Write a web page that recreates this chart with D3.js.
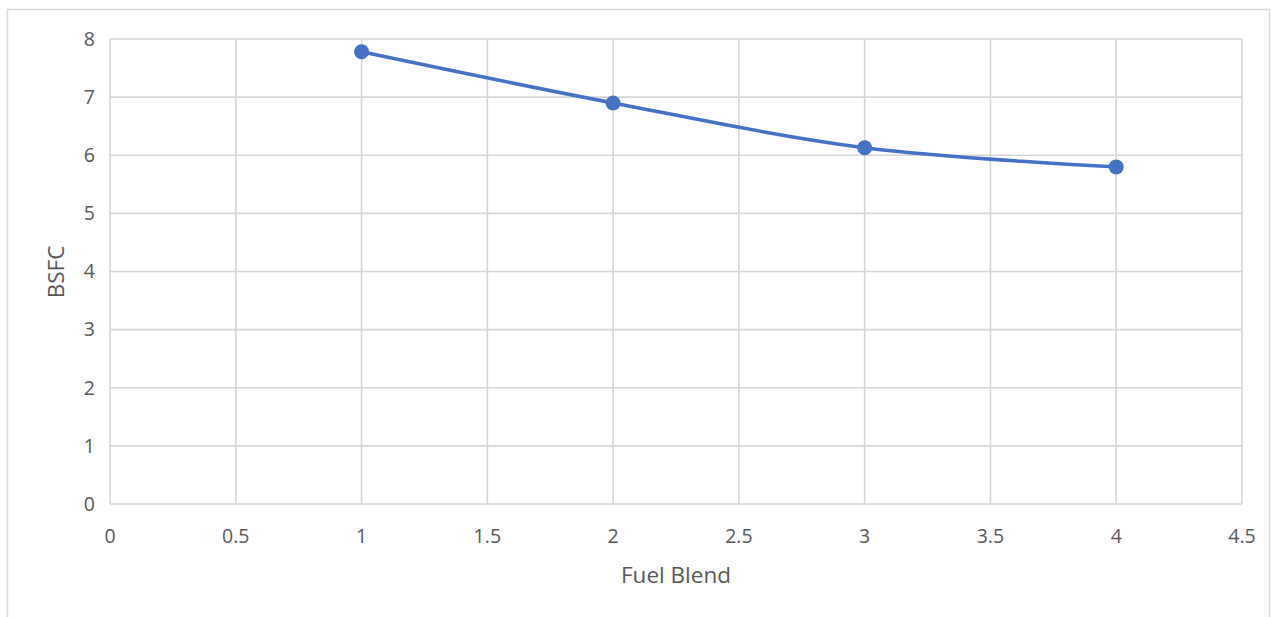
<!DOCTYPE html>
<html>
<head>
  <meta charset="UTF-8">
  <style>
    body { margin: 0; background: #fff; }
    svg { display: block; }
    text { font-family: "Open Sans", sans-serif; fill: #595959; }
  </style>
</head>
<body>
<svg></svg>
<script src="https://d3js.org/d3.v7.min.js"></script>
<script>

let width = 1271, height = 617;

// data
let fuelBlend = [1, 2, 3, 4];
let bsfc = [7.78, 6.9, 6.13, 5.8];
let xTicks = [0, 0.5, 1, 1.5, 2, 2.5, 3, 3.5, 4, 4.5];
let yTicks = [0, 1, 2, 3, 4, 5, 6, 7, 8];

let margin = {left: 110, top: 39, right: 1242, bottom: 504};

let svg = d3.select("svg")
    .attr("width", width)
    .attr("height", height);

// outer chart frame (bottom cut off in the reference)
svg.append("rect")
    .attr("x", 7.5).attr("y", 9.5)
    .attr("width", 1262).attr("height", 700)
    .attr("fill", "none")
    .attr("stroke", "#d9d9d9")
    .attr("stroke-width", 1.5);

let x = d3.scaleLinear().domain([0, 4.5]).range([margin.left, margin.right]);
let y = d3.scaleLinear().domain([0, 8]).range([margin.bottom, margin.top]);

// gridlines
svg.append("g")
    .selectAll("line.h")
    .data(yTicks)
    .enter()
    .append("line")
    .attr("x1", margin.left).attr("x2", margin.right)
    .attr("y1", d => y(d)).attr("y2", d => y(d))
    .attr("stroke", "#d6d6d6")
    .attr("stroke-width", 1.6);

svg.append("g")
    .selectAll("line.v")
    .data(xTicks)
    .enter()
    .append("line")
    .attr("x1", d => x(d)).attr("x2", d => x(d))
    .attr("y1", margin.top).attr("y2", margin.bottom)
    .attr("stroke", "#d6d6d6")
    .attr("stroke-width", 1.6);

// tick labels
svg.append("g")
    .selectAll("text")
    .data(yTicks)
    .enter()
    .append("text")
    .attr("x", 95)
    .attr("y", d => y(d))
    .attr("dy", "0.35em")
    .attr("text-anchor", "end")
    .style("font-size", "19.5px")
    .text(d => d);

svg.append("g")
    .selectAll("text")
    .data(xTicks)
    .enter()
    .append("text")
    .attr("x", d => x(d))
    .attr("y", 543)
    .attr("text-anchor", "middle")
    .style("font-size", "19.5px")
    .text(d => d);

// axis titles
svg.append("text")
    .attr("x", 676)
    .attr("y", 583)
    .attr("text-anchor", "middle")
    .style("font-size", "22.5px")
    .text("Fuel Blend");

svg.append("text")
    .attr("transform", "translate(64,272) rotate(-90)")
    .attr("text-anchor", "middle")
    .style("font-size", "22.5px")
    .text("BSFC");

// series
let pts = fuelBlend.map((f, i) => [f, bsfc[i]]);

let line = d3.line()
    .x(d => x(d[0]))
    .y(d => y(d[1]))
    .curve(d3.curveCatmullRom.alpha(0));

svg.append("path")
    .datum(pts)
    .attr("d", line)
    .attr("fill", "none")
    .attr("stroke", "#4472c4")
    .attr("stroke-width", 3.5);

svg.append("g")
    .selectAll("circle")
    .data(pts)
    .enter()
    .append("circle")
    .attr("cx", d => x(d[0]))
    .attr("cy", d => y(d[1]))
    .attr("r", 7.5)
    .attr("fill", "#4472c4");

</script>
</body>
</html>
